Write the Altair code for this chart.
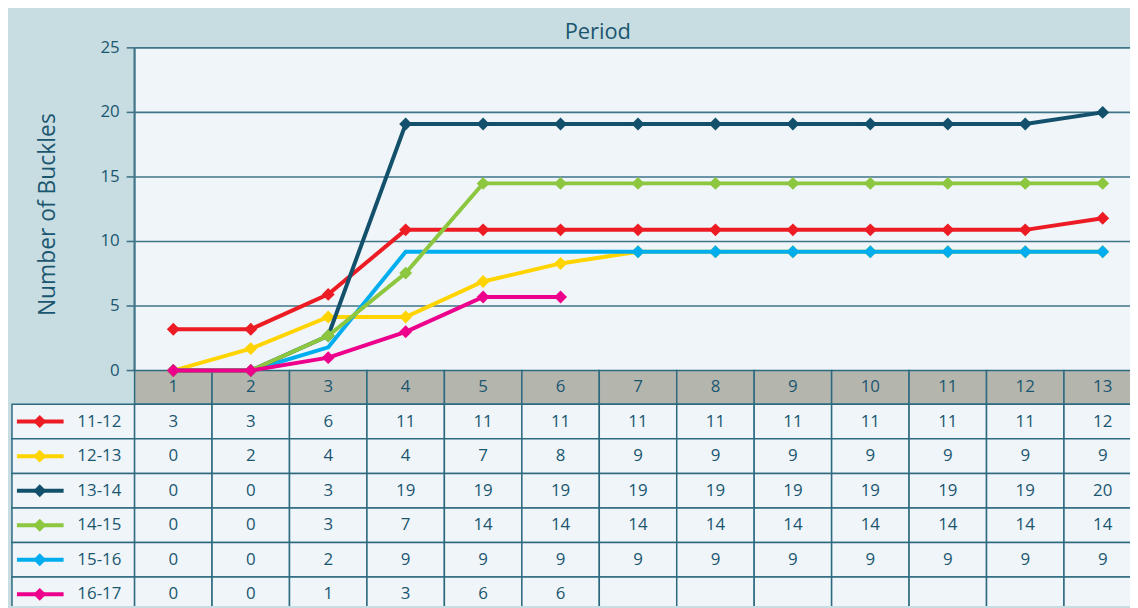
import altair as alt
import pandas as pd

# ---------------- data ----------------
periods = list(range(1, 14))
seasons = ["11-12", "12-13", "13-14", "14-15", "15-16", "16-17"]
season_colors = ["#ed1c24", "#ffd400", "#13506b", "#8dc63f", "#00aeef", "#ec008c"]

# plotted values
buckles_1112 = [3.2, 3.2, 5.9, 10.9, 10.9, 10.9, 10.9, 10.9, 10.9, 10.9, 10.9, 10.9, 11.8]
buckles_1213 = [0, 1.7, 4.15, 4.15, 6.9, 8.3, 9.2, 9.2, 9.2, 9.2, 9.2, 9.2, 9.2]
buckles_1314 = [0, 0, 2.7, 19.1, 19.1, 19.1, 19.1, 19.1, 19.1, 19.1, 19.1, 19.1, 20.0]
buckles_1415 = [0, 0, 2.7, 7.55, 14.5, 14.5, 14.5, 14.5, 14.5, 14.5, 14.5, 14.5, 14.5]
buckles_1516 = [0, 0, 1.8, 9.2, 9.2, 9.2, 9.2, 9.2, 9.2, 9.2, 9.2, 9.2, 9.2]
buckles_1617 = [0, 0, 1.0, 3.0, 5.7, 5.7]

# values shown in the data table
table_1112 = ["3", "3", "6", "11", "11", "11", "11", "11", "11", "11", "11", "11", "12"]
table_1213 = ["0", "2", "4", "4", "7", "8", "9", "9", "9", "9", "9", "9", "9"]
table_1314 = ["0", "0", "3", "19", "19", "19", "19", "19", "19", "19", "19", "19", "20"]
table_1415 = ["0", "0", "3", "7", "14", "14", "14", "14", "14", "14", "14", "14", "14"]
table_1516 = ["0", "0", "2", "9", "9", "9", "9", "9", "9", "9", "9", "9", "9"]
table_1617 = ["0", "0", "1", "3", "6", "6", "", "", "", "", "", "", ""]

y_ticks = [0, 5, 10, 15, 20, 25]

series_values = [buckles_1112, buckles_1213, buckles_1314, buckles_1415, buckles_1516, buckles_1617]
table_values = [table_1112, table_1213, table_1314, table_1415, table_1516, table_1617]

# ---------------- geometry / style ----------------
W, H = 1130, 600
PX_X, PX_Y = 78.0, 13.0
PLOT_LEFT = 127.5
ZERO_Y = 363.0
X_MIN = 0.5 - PLOT_LEFT / PX_X
X_MAX = 0.5 + (W - PLOT_LEFT) / PX_X
Y_MIN = -(H - ZERO_Y) / PX_Y
Y_MAX = ZERO_Y / PX_Y
HDR = 34.0 / PX_Y
ROW = 34.8 / PX_Y
LEG_LEFT = 0.5 - 123.5 / PX_X

FONT = "Open Sans"
TXT = "#1b5670"
GRID = "#3f7388"
BORDER = "#2d6a80"
OUTER_BG = "#c8dde2"
PLOT_BG = "#eff5f8"
HEAD_BG = "#b4b5ad"

xs = alt.Scale(domain=[X_MIN, X_MAX], nice=False, zero=False)
ys = alt.Scale(domain=[Y_MIN, Y_MAX], nice=False, zero=False)
cs = alt.Scale(domain=seasons, range=season_colors)


def X(f):
    return alt.X(f, type="quantitative", scale=xs, axis=None)


def Y(f):
    return alt.Y(f, type="quantitative", scale=ys, axis=None)


# ---------------- tables ----------------
series_rows = []
for s, vals in zip(seasons, series_values):
    for p, v in zip(periods, vals):
        series_rows.append({"season": s, "period": p, "value": v})
series_df = pd.DataFrame(series_rows)

plot_bg_df = pd.DataFrame([{"x": 0.5, "x2": X_MAX, "y": 0, "y2": 25}])
grid_df = pd.DataFrame({"y": y_ticks[1:], "x": 0.5, "x2": X_MAX})
tick_df = pd.DataFrame({"y": y_ticks, "x": 0.5 - 8 / PX_X, "x2": 0.5, "label": [str(t) for t in y_ticks]})

head_df = pd.DataFrame({"period": periods})
head_df["x"] = head_df["period"] - 0.5
head_df["x2"] = head_df["period"] + 0.5
head_df["y"] = 0.0
head_df["y2"] = -HDR
head_df["yc"] = -HDR / 2
head_df["label"] = head_df["period"].astype(str)

cell_rows = []
for i, (s, labels) in enumerate(zip(seasons, table_values)):
    top = -(HDR + i * ROW)
    bot = top - ROW
    cell_rows.append({"season": s, "x": LEG_LEFT, "x2": 0.5, "y": top, "y2": bot,
                      "yc": (top + bot) / 2, "label": "", "legend": True})
    for p, lab in zip(periods, labels):
        cell_rows.append({"season": s, "x": p - 0.5, "x2": p + 0.5, "y": top, "y2": bot,
                          "xc": p, "yc": (top + bot) / 2, "label": lab, "legend": False})
cells_df = pd.DataFrame(cell_rows)
value_df = cells_df[(~cells_df["legend"]) & (cells_df["label"] != "")]
legend_df = cells_df[cells_df["legend"]].copy()
legend_df["sx1"] = LEG_LEFT + 5 / PX_X
legend_df["sx2"] = LEG_LEFT + 52 / PX_X
legend_df["sm"] = LEG_LEFT + 28 / PX_X
legend_df["lx"] = LEG_LEFT + 88 / PX_X

# ---------------- layers ----------------
layers = []

layers.append(alt.Chart(plot_bg_df).mark_rect(fill=PLOT_BG).encode(
    x=X("x"), x2="x2", y=Y("y"), y2="y2"))

layers.append(alt.Chart(grid_df).mark_rule(stroke=GRID, strokeWidth=1.6, clip=True).encode(
    x=X("x"), x2="x2", y=Y("y")))

layers.append(alt.Chart(tick_df).mark_rule(stroke=GRID, strokeWidth=1.6).encode(
    x=X("x"), x2="x2", y=Y("y")))

layers.append(alt.Chart(plot_bg_df).mark_rule(stroke=GRID, strokeWidth=2.2).encode(
    x=X("x"), y=Y("y"), y2="y2"))

layers.append(alt.Chart(tick_df).mark_text(
    align="right", baseline="middle", dx=-15, font=FONT, fontSize=17, color=TXT).encode(
    x=X("x2"), y=Y("y"), text="label:N"))

# header row
layers.append(alt.Chart(head_df).mark_rect(fill=HEAD_BG, stroke=BORDER, strokeWidth=1.5, clip=True).encode(
    x=X("x"), x2="x2", y=Y("y"), y2="y2"))
layers.append(alt.Chart(head_df).mark_text(
    align="center", baseline="middle", font=FONT, fontSize=17, color=TXT, clip=True).encode(
    x=X("period"), y=Y("yc"), text="label:N"))

# table cells
layers.append(alt.Chart(cells_df).mark_rect(fill=PLOT_BG, stroke=BORDER, strokeWidth=1.5, clip=True).encode(
    x=X("x"), x2="x2", y=Y("y"), y2="y2"))
layers.append(alt.Chart(value_df).mark_text(
    align="center", baseline="middle", font=FONT, fontSize=17, color=TXT, clip=True).encode(
    x=X("xc"), y=Y("yc"), text="label:N"))

# legend swatches
layers.append(alt.Chart(legend_df).mark_rule(strokeWidth=4, clip=True).encode(
    x=X("sx1"), x2="sx2", y=Y("yc"),
    color=alt.Color("season:N", scale=cs, legend=None)))
layers.append(alt.Chart(legend_df).mark_point(shape="diamond", filled=True, size=170, opacity=1, clip=True).encode(
    x=X("sm"), y=Y("yc"),
    color=alt.Color("season:N", scale=cs, legend=None)))
layers.append(alt.Chart(legend_df).mark_text(
    align="center", baseline="middle", font=FONT, fontSize=17, color=TXT, clip=True).encode(
    x=X("lx"), y=Y("yc"), text="season:N"))

# series (drawing order chosen to match overlaps)
draw_order = ["12-13", "15-16", "11-12", "13-14", "14-15", "16-17"]
for s in draw_order:
    base = alt.Chart(series_df).transform_filter(alt.datum.season == s)
    layers.append(base.mark_line(strokeWidth=4, clip=True).encode(
        x=X("period"), y=Y("value"),
        color=alt.Color("season:N", scale=cs, legend=None),
        order="period:Q"))
    pts = base
    if s == "15-16":
        pts = base.transform_filter(alt.datum.period >= 7)
    layers.append(pts.mark_point(shape="diamond", filled=True, size=170, opacity=1, clip=True).encode(
        x=X("period"), y=Y("value"),
        color=alt.Color("season:N", scale=cs, legend=None)))

# titles
title_df = pd.DataFrame([{"t": "Period"}])
layers.append(alt.Chart(title_df).mark_text(
    align="center", baseline="middle", font=FONT, fontSize=22, color=TXT).encode(
    x=alt.value(594), y=alt.value(22), text="t:N"))
ytitle_df = pd.DataFrame([{"t": "Number of Buckles"}])
layers.append(alt.Chart(ytitle_df).mark_text(
    align="center", baseline="middle", angle=270, font=FONT, fontSize=23, color=TXT).encode(
    x=alt.value(40), y=alt.value(206), text="t:N"))

chart = alt.layer(*layers).properties(
    width=W, height=H,
    autosize=alt.AutoSizeParams(type="none"),
    padding=0,
    background=OUTER_BG,
).configure_view(stroke=None)

chart.save("out.html", embed_options={"renderer": "svg", "actions": False})
